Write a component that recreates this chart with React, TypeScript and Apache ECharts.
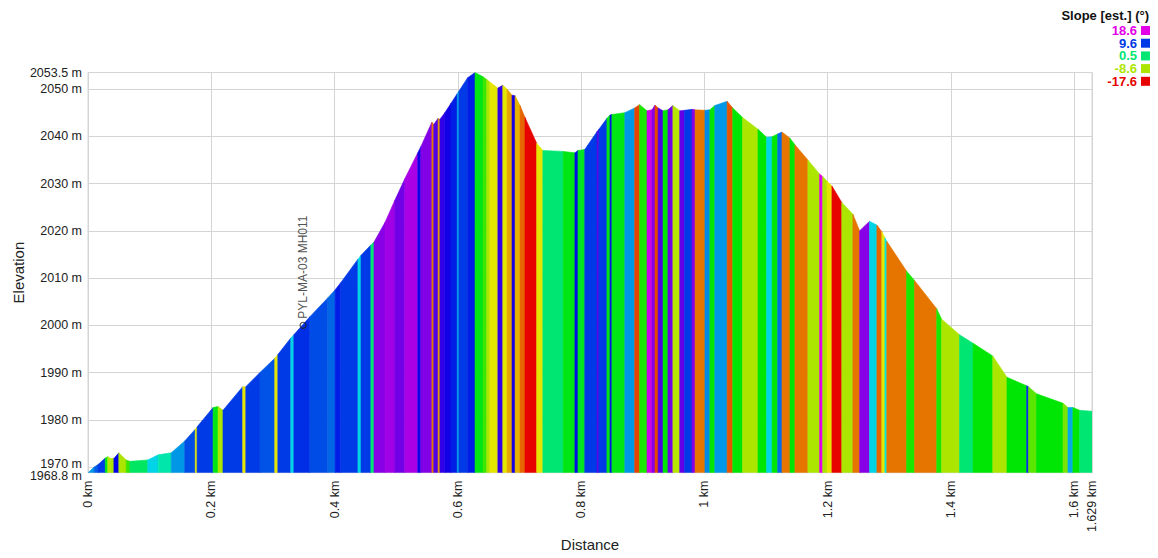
import React, { useEffect, useRef } from "react";
import * as echarts from "echarts";

// Profile breakpoints (distance in km, elevation in m)
const distKm = [
  0.000, 0.010, 0.016, 0.028, 0.032, 0.037, 0.042, 0.050, 0.062, 0.068,
  0.097, 0.114, 0.135, 0.157, 0.174, 0.177, 0.203, 0.211, 0.219, 0.251,
  0.256, 0.279, 0.303, 0.308, 0.329, 0.334, 0.360, 0.389, 0.401, 0.410,
  0.438, 0.443, 0.459, 0.464, 0.482, 0.498, 0.514, 0.535, 0.540, 0.558,
  0.561, 0.568, 0.571, 0.579, 0.589, 0.599, 0.602, 0.616, 0.628, 0.641,
  0.647, 0.652, 0.665, 0.673, 0.680, 0.688, 0.693, 0.701, 0.709, 0.728,
  0.738, 0.771, 0.790, 0.795, 0.806, 0.826, 0.829, 0.842, 0.847, 0.850,
  0.871, 0.887, 0.895, 0.907, 0.915, 0.920, 0.925, 0.933, 0.941, 0.949,
  0.960, 0.968, 0.980, 0.985, 1.001, 1.009, 1.017, 1.037, 1.046, 1.062,
  1.087, 1.101, 1.110, 1.119, 1.126, 1.139, 1.147, 1.168, 1.187, 1.192,
  1.199, 1.207, 1.223, 1.241, 1.252, 1.268, 1.280, 1.288, 1.293, 1.296,
  1.328, 1.341, 1.377, 1.385, 1.414, 1.436, 1.468, 1.491, 1.523, 1.526,
  1.539, 1.582, 1.590, 1.598, 1.609, 1.629,
];

const elevM = [
  1968.8, 1970.0, 1970.5, 1971.9, 1972.2, 1971.8, 1971.8, 1973.0, 1971.5, 1971.2,
  1971.5, 1972.6, 1973.0, 1975.5, 1978.0, 1978.5, 1982.6, 1982.8, 1982.0, 1987.0,
  1987.0, 1990.0, 1993.0, 1993.8, 1997.3, 1998.0, 2001.8, 2005.8, 2007.5, 2009.0,
  2014.0, 2014.8, 2017.0, 2017.6, 2021.8, 2026.5, 2031.0, 2036.5, 2037.8, 2043.0,
  2042.5, 2043.8, 2043.6, 2045.0, 2047.0, 2049.0, 2049.6, 2052.4, 2053.5, 2052.6,
  2052.0, 2051.5, 2050.2, 2050.8, 2050.0, 2048.7, 2048.6, 2046.5, 2044.0, 2038.5,
  2037.0, 2036.8, 2036.5, 2037.0, 2037.2, 2041.0, 2041.5, 2043.8, 2044.5, 2044.6,
  2045.0, 2046.0, 2046.7, 2045.4, 2045.6, 2046.6, 2046.0, 2045.4, 2045.6, 2046.5,
  2045.4, 2045.5, 2045.7, 2045.6, 2045.5, 2045.6, 2046.5, 2047.4, 2046.0, 2044.0,
  2041.5, 2039.8, 2039.9, 2040.5, 2040.9, 2039.6, 2038.2, 2035.0, 2032.0, 2031.5,
  2030.5, 2029.5, 2026.0, 2023.5, 2020.0, 2022.0, 2021.2, 2019.8, 2018.5, 2017.8,
  2011.5, 2009.5, 2003.5, 2001.3, 1998.0, 1996.2, 1993.5, 1989.0, 1987.2, 1987.0,
  1985.5, 1983.5, 1982.6, 1982.6, 1982.0, 1981.8,
];

// Estimated slope (°) of each stretch between consecutive breakpoints
const slopeDeg = [
  6.6, 8.4, 9.6, -2.5, -9, -8.6, 11.4, -8.6, -5, 0,
  4.7, 2.3, 6.6, 9, -10.4, 9.6, -2.5, -8.6, 9.6, -10.4,
  9.6, 8.8, -10.4, 9.6, 4.7, 10, 9, 8.2, 10.5, 9.6,
  4.7, 9.6, 0.5, 15.7, 16.5, 15, 16.8, 12, 15.5, -14,
  14, -13, 13, 12, 10.5, 6.6, 9.6, 10.5, -2.5, -5,
  -8.6, -10.4, 13, -10.4, -12.5, 12, -12, -14.5, -17.6, -10.4,
  0.5, -2.5, 11, -2, 9.6, 14, 9.6, -2.5, 11, -2.5,
  6.6, -15.5, -4, 18, 15.7, -15.5, 14, -3, 15, -9,
  14.5, 9.6, 15.7, -14, 7, -3, 6.6, -15, -3, -8.6,
  -3, 4.7, -3, 8, -14, -3, -14, -8.6, 18.6, -8.6,
  -10.4, -17.6, -8.6, -14, 15.7, 4.7, -14.5, -10.4, 4, -14,
  -4, -14, -4, -8.6, 0.5, -3, -8.6, -3, 10, -6,
  -3, -7, 6, -3, 0.5,
];

const xLabelValues = [0, 0.2, 0.4, 0.6, 0.8, 1, 1.2, 1.4, 1.6, 1.629];
const yLabelValues = [1970, 1980, 1990, 2000, 2010, 2020, 2030, 2040, 2050, 2053.5];
const yMinLabelValues = [1968.8];
const yGridValues = [1970, 1980, 1990, 2000, 2010, 2020, 2030, 2040, 2050];
const legendSlopes = [18.6, 9.6, 0.5, -8.6, -17.6];
const markerKm = 0.349;
const markerElev = 2000;
const markerName = "PYL-MA-03 MH011";

const X_MIN = 0;
const X_MAX = 1.629;
const Y_MIN = 1968.8;
const Y_MAX = 2053.5;

const FONT = '"Liberation Sans", Arial, Helvetica, sans-serif';

function hslToHex(h: number, s: number, l: number): string {
  const k = (n: number) => (n + h / 30) % 12;
  const a = s * Math.min(l, 1 - l);
  const f = (n: number) => l - a * Math.max(-1, Math.min(k(n) - 3, Math.min(9 - k(n), 1)));
  const to = (v: number) => Math.round(v * 255).toString(16).padStart(2, "0");
  return "#" + to(f(0)) + to(f(8)) + to(f(4));
}

function slopeColor(s: number): string {
  const h = Math.max(0, Math.min(300, 150 + (s - 0.5) * 8.24));
  return hslToHex(h, 1, 0.45);
}

const yLabelFormatter = (v: number) => `${+v.toFixed(1)} m`;

export default function App() {
  const ref = useRef<HTMLDivElement>(null);

  useEffect(() => {
    if (!ref.current) return;
    const chart = echarts.init(ref.current, undefined, { renderer: "svg" });

    const segments = slopeDeg.map((s, i) => [distKm[i], distKm[i + 1], elevM[i], elevM[i + 1], s]);

    const legendGraphics: any[] = [
      {
        type: "text",
        x: 1149,
        y: 15,
        style: {
          text: "Slope [est.] (°)",
          font: `bold 13px ${FONT}`,
          fill: "#111",
          textAlign: "right",
          textVerticalAlign: "middle",
        },
      },
    ];
    legendSlopes.forEach((v, i) => {
      const cy = 30.5 + i * 12.7;
      legendGraphics.push({
        type: "text",
        x: 1137,
        y: cy,
        style: {
          text: String(v),
          font: `bold 13px ${FONT}`,
          fill: slopeColor(v),
          textAlign: "right",
          textVerticalAlign: "middle",
        },
      });
      legendGraphics.push({
        type: "rect",
        shape: { x: 1141, y: cy - 4.5, width: 9, height: 9 },
        style: { fill: slopeColor(v) },
      });
    });

    const labelBase = {
      margin: 6,
      hideOverlap: false,
      fontFamily: FONT,
      fontSize: 12.5,
      color: "#222",
      formatter: yLabelFormatter,
    };

    const option: any = {
      animation: false,
      backgroundColor: "#ffffff",
      grid: {
        left: 88,
        right: 66,
        top: 72.5,
        bottom: 85.3,
        show: true,
        containLabel: false,
        outerBoundsMode: "none",
        borderColor: "#d4d4d4",
        borderWidth: 1,
        backgroundColor: "transparent",
      },
      xAxis: {
        type: "value",
        min: X_MIN,
        max: X_MAX,
        name: "Distance",
        nameLocation: "middle",
        nameGap: 72,
        nameMoveOverlap: false,
        nameTextStyle: { fontFamily: FONT, fontSize: 15, color: "#222", verticalAlign: "middle" },
        axisLine: { show: false },
        axisTick: { show: false, customValues: xLabelValues },
        axisLabel: {
          customValues: xLabelValues,
          rotate: 90,
          margin: 8,
          hideOverlap: false,
          showMinLabel: true,
          showMaxLabel: true,
          fontFamily: FONT,
          fontSize: 12.5,
          color: "#222",
          formatter: (v: number) => `${+v.toFixed(3)} km`,
        },
        splitLine: { show: true, lineStyle: { color: "#d4d4d4", width: 1 } },
      },
      yAxis: [
        {
          type: "value",
          min: Y_MIN,
          max: Y_MAX,
          position: "left",
          name: "Elevation",
          nameLocation: "middle",
          nameGap: 70,
          nameRotate: 90,
          nameMoveOverlap: false,
          nameTextStyle: { fontFamily: FONT, fontSize: 15, color: "#222", verticalAlign: "middle" },
          axisLine: { show: false },
          axisTick: { show: false, customValues: yGridValues },
          axisLabel: {
            ...labelBase,
            customValues: yLabelValues,
            verticalAlign: "middle",
            verticalAlignMinLabel: "bottom",
            verticalAlignMaxLabel: "middle",
            lineHeight: 6,
          },
          splitLine: { show: true, lineStyle: { color: "#d4d4d4", width: 1 } },
        },
        {
          type: "value",
          min: Y_MIN,
          max: Y_MAX,
          position: "left",
          offset: 0,
          axisLine: { show: false },
          axisTick: { show: false, customValues: yMinLabelValues },
          axisLabel: {
            ...labelBase,
            customValues: yMinLabelValues,
            verticalAlign: "top",
            verticalAlignMinLabel: "top",
            lineHeight: 6,
          },
          splitLine: { show: false },
        },
      ],
      graphic: legendGraphics,
      series: [
        {
          type: "custom",
          data: segments,
          encode: { x: [0, 1], y: [2, 3] },
          clip: true,
          silent: true,
          z: 2,
          renderItem: (params: any, api: any) => {
            const x0 = api.value(0);
            const x1 = api.value(1);
            const y0 = api.value(2);
            const y1 = api.value(3);
            const s = api.value(4);
            const a = api.coord([x0, Y_MIN]);
            const b = api.coord([x0, y0]);
            const c = api.coord([x1, y1]);
            const d = api.coord([x1, Y_MIN]);
            const col = slopeColor(s);
            return {
              type: "polygon",
              shape: { points: [a, b, c, d] },
              style: { fill: col, stroke: col, lineWidth: 0.6 },
            };
          },
        },
        {
          type: "scatter",
          data: [[markerKm, markerElev]],
          symbol: "circle",
          symbolSize: 6,
          silent: true,
          z: 5,
          itemStyle: { color: "rgba(255,255,255,0)", borderColor: "#222", borderWidth: 1.2 },
          label: {
            show: true,
            formatter: markerName,
            position: "top",
            distance: 3,
            rotate: 90,
            align: "left",
            verticalAlign: "middle",
            fontFamily: FONT,
            fontSize: 12,
            color: "#222",
          },
        },
      ],
    };

    chart.setOption(option);
    return () => chart.dispose();
  }, []);

  return (
    <div
      ref={ref}
      style={{ position: "fixed", left: 0, top: 0, width: 1158, height: 558, background: "#fff" }}
    />
  );
}
